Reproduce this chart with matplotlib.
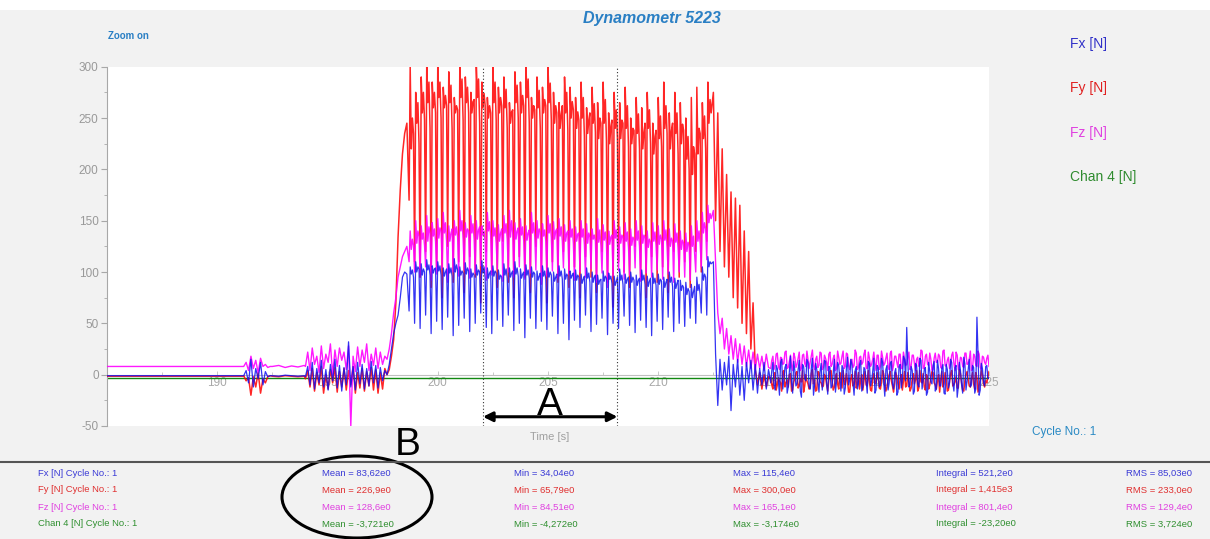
import numpy as np
import matplotlib
matplotlib.use("Agg")
import matplotlib.pyplot as plt
from matplotlib.patches import Ellipse, Rectangle
from matplotlib.lines import Line2D
from matplotlib.ticker import MultipleLocator

plt.rcParams['font.family'] = ['Liberation Sans', 'DejaVu Sans']
plt.rcParams['axes.unicode_minus'] = False

# ---------------------------------------------------------------- data
channels = ["Fx [N]", "Fy [N]", "Fz [N]", "Chan 4 [N]"]

# resting levels before the cut
fx_rest, fy_rest, fz_rest = [-1.0, -1.0], [-1.5, -1.5], [8.0, 8.0]
chan4_level = [-3.72, -3.72]

# short disturbance around 191-192 s
fx_burst = [-1, 4, -8, 15, -12, 6, -4, 12, -10, 3, -2, -1]
fy_burst = [-1, -6, -3, -20, -2, -12, 2, -18, -4, -8, -2, -1]
fz_burst = [8, 12, 4, 18, 6, 14, 2, 16, 8, 10, 7, 8]

fx_quiet = [-1, -1.5, -0.5, -1, -1.5, -1]
fy_quiet = [-1.5, -2, -1, -1.5, -2, -1.5]
fz_quiet = [8, 9, 7, 8.5, 7.5, 9]

# approach noise 194-197.6 s
fx_pre = [-2, 8, -10, 12, -14, 6, -8, 14, -12, 5, -15, 10, -6, 15, -13, 9, -16, 7,
          -10, 32, -12, 8, -15, 12, -9, 10, -14, 6, -11, 13, -8, 9, -13, 7, -6, 4]
fy_pre = [-4, 4, -12, 6, -16, 2, -10, 8, -18, 0, -14, 5, -8, 7, -17, 3, -12, 6,
          -15, 4, -10, 8, -18, 2, -13, 6, -16, 3, -11, 7, -15, 5, -18, 2, -14, 6]
fz_pre = [8, 22, 4, 26, 10, 18, 2, 28, 6, 20, 12, 30, 0, 24, 8, 26, 14, 22,
          5, 28, -50, 18, 3, 27, 8, 24, 12, 30, 4, 20, 9, 26, 6, 22, 10, 18]

# engagement ramp 197.7-198.6 s
fx_ramp = [0, 10, 25, 40, 50, 58, 75, 95, 100, 98]
fy_ramp = [0, 5, 18, 34, 70, 134, 180, 215, 235, 245]
fz_ramp = [15, 25, 40, 60, 75, 95, 105, 115, 120, 125]

# cutting phase: dip / peak / band / crest / mid value for every tooth cycle
fy_dips = [170, 110, 95, 120, 85, 105, 75, 125, 90, 110, 80, 115, 95, 70, 120,
           100, 85, 130, 90, 75, 115, 95, 80, 125, 100, 70, 110, 90, 120, 85,
           105, 75, 115, 95, 80, 120, 90, 66, 110, 100, 85, 125, 95, 75, 115,
           90, 105, 80, 120, 95, 110, 85, 120, 100, 130]
fy_peaks = [300, 275, 290, 300, 285, 300, 280, 295, 270, 300, 290, 275, 300, 285, 270,
            300, 280, 290, 265, 295, 285, 300, 270, 290, 280, 300, 275, 265, 290, 280,
            270, 285, 260, 280, 265, 285, 255, 275, 265, 280, 250, 270, 260, 275, 245,
            270, 285, 255, 275, 265, 250, 270, 280, 265, 285]
fy_band = [220, 245, 255, 265, 260, 270, 260, 265, 255, 270, 265, 255, 270, 260, 250,
           265, 255, 260, 245, 265, 255, 270, 250, 260, 255, 265, 245, 240, 255, 250,
           240, 250, 235, 245, 230, 245, 225, 240, 230, 240, 225, 235, 220, 240, 215,
           230, 240, 220, 235, 225, 210, 195, 215, 230, 245]
fy_crest = [250, 265, 275, 285, 275, 285, 272, 282, 262, 288, 280, 266, 288, 274, 262,
            285, 270, 278, 256, 282, 272, 288, 262, 277, 268, 284, 262, 254, 275, 266,
            256, 270, 248, 264, 250, 268, 242, 258, 248, 262, 240, 254, 236, 258, 232,
            252, 262, 238, 255, 244, 232, 222, 240, 252, 268]
fy_mid = [235, 225, 248, 240, 255, 250, 262, 240, 258, 248, 255, 268, 245, 262, 255,
          248, 262, 240, 258, 250, 262, 245, 258, 240, 262, 248, 255, 262, 238, 258,
          248, 232, 255, 236, 245, 228, 248, 230, 245, 222, 238, 220, 245, 225, 238,
          222, 235, 245, 215, 238, 200, 215, 235, 220, 255]

fz_dips = [110, 100, 95, 105, 92, 98, 104, 90, 100, 96, 102, 94, 99, 106, 92,
           97, 103, 91, 100, 95, 105, 93, 99, 102, 88, 96, 101, 94, 104, 98,
           92, 100, 95, 103, 90, 99, 85, 96, 101, 93, 97, 104, 91, 99, 95,
           102, 93, 98, 90, 100, 95, 92, 100, 105, 112]
fz_peaks = [140, 150, 145, 155, 148, 152, 158, 145, 150, 160, 148, 155, 150, 145, 158,
            150, 146, 155, 160, 148, 152, 145, 158, 150, 147, 155, 149, 152, 146, 150,
            144, 150, 147, 142, 152, 146, 140, 150, 144, 148, 142, 150, 145, 140, 148,
            145, 150, 142, 147, 140, 138, 145, 150, 158, 165]
fz_band = [122, 128, 132, 130, 135, 133, 138, 130, 136, 140, 134, 138, 132, 136, 140,
           135, 130, 138, 134, 132, 136, 131, 138, 133, 135, 138, 132, 135, 130, 134,
           130, 134, 128, 132, 129, 131, 127, 133, 128, 130, 126, 131, 128, 124, 130,
           127, 131, 125, 129, 122, 120, 125, 130, 138, 148]
fz_crest = [132, 140, 138, 144, 142, 143, 148, 138, 144, 150, 142, 147, 141, 140, 149,
            143, 138, 147, 150, 140, 144, 138, 148, 142, 141, 147, 140, 144, 138, 142,
            137, 142, 138, 136, 141, 139, 134, 141, 136, 139, 134, 140, 136, 132, 139,
            136, 141, 133, 138, 131, 129, 135, 140, 148, 157]
fz_mid = [126, 135, 126, 138, 130, 140, 130, 142, 134, 132, 140, 132, 144, 130, 135,
          128, 142, 132, 138, 143, 130, 141, 134, 139, 130, 134, 142, 130, 140, 128,
          138, 127, 134, 130, 125, 128, 136, 128, 134, 124, 132, 125, 134, 129, 126,
          132, 124, 130, 123, 128, 126, 118, 128, 142, 152]

fx_dips = [62, 50, 45, 58, 40, 52, 44, 56, 38, 48, 55, 42, 50, 60, 46,
           40, 53, 47, 58, 43, 50, 36, 55, 45, 52, 44, 57, 40, 50, 34,
           53, 46, 58, 42, 49, 55, 39, 50, 45, 57, 48, 41, 53, 46, 38,
           52, 44, 56, 42, 50, 47, 55, 50, 60, 58]
fx_peaks = [105, 110, 108, 112, 106, 110, 104, 108, 113, 105, 109, 103, 107, 111, 104,
            106, 102, 108, 104, 110, 103, 107, 105, 101, 106, 104, 100, 106, 103, 101,
            102, 98, 104, 100, 97, 101, 99, 96, 103, 98, 100, 97, 102, 96, 99,
            98, 95, 100, 94, 92, 90, 88, 95, 105, 115]
fx_band = [98, 100, 97, 102, 99, 101, 96, 99, 100, 97, 98, 95, 97, 99, 94,
           96, 93, 97, 95, 98, 94, 97, 95, 92, 96, 95, 91, 96, 93, 94,
           92, 89, 94, 90, 88, 91, 93, 87, 92, 89, 90, 87, 92, 86, 89,
           88, 85, 90, 84, 82, 78, 75, 82, 92, 105]
fx_crest = [102, 105, 103, 107, 103, 106, 100, 104, 107, 101, 104, 99, 102, 105, 99,
            101, 97, 103, 99, 104, 98, 102, 100, 96, 101, 100, 95, 101, 98, 97,
            97, 93, 99, 95, 92, 96, 96, 91, 97, 93, 95, 92, 97, 91, 94,
            93, 90, 95, 89, 87, 84, 81, 88, 98, 110]
fx_mid = [95, 103, 100, 97, 104, 97, 103, 96, 102, 99, 101, 97, 100, 94, 101,
          99, 95, 94, 101, 96, 100, 94, 98, 99, 93, 97, 98, 93, 96, 99,
          95, 96, 90, 97, 93, 94, 89, 95, 88, 95, 92, 94, 88, 94, 87,
          91, 93, 86, 92, 85, 81, 86, 78, 95, 108]

# tool exit 212.5-215 s
fx_exit = [110, 20, -30, 15, -15, 12, -10, 18, -35, 10, -12, 15, -20, 8, -25, 12,
           -8, 14, -15, 10, -18, 6, -10, 12, -14, 5]
fy_exit = [275, 150, 255, 120, 220, 105, 195, 95, 178, 75, 172, 65, 165, 50, 140, 40,
           120, 25, 70, 5, -10, 2, -14, 0, -12, -2]
fz_exit = [160, 110, 60, 40, 55, 25, 45, 20, 38, 15, 35, 12, 30, 10, 28, 8,
           24, 6, 22, 5, 20, 6, 18, 4, 20, 7]

# idle noise 215.1-225 s, two interleaved sample streams
fx_post = [-8, 12, -15, 6, -20, 15, -5, 10, -12, 18, -18, 4, -9, 14, -22, 8, -6, 12, -14, 16,
           -10, 5, -17, 11, -4, 13, -19, 7, -11, 15, -7, 9, -16, 6, -13, 17, -5, 10, -20, 8,
           -9, 14, -12, 5, -18, 11, -6, 16, -15, 7, -10, 12, -21, 9, -8, 13, -14, 6, -17, 10,
           -5, 15, 46, -12, 8, -19, 11, -9, 16, -14, 5, -20, 12, -7, 9, -16, 14, -11, 6, -18,
           10, -13, 15, -8, 7, -22, 12, -10, 17, -15, 5, -12, 9, -18, 56, -20, 11, -7, 8, -4]
fx_post_b = [4, -10, 9, -6, 12, -14, 7, -18, 3, -8, 13, -11, 5, -16, 10, -4, 15, -12, 6, -20,
             11, -7, 3, -15, 14, -9, 8, -13, 2, -17, 12, -5, 9, -19, 6, -10, 15, -8, 4, -14,
             10, -16, 7, -6, 13, -11, 3, -18, 9, -12, 16, -7, 5, -15, 11, -9, 2, -20, 8, -13,
             18, -6, 12, -10, 4, -16, 9, -12, 14, -5, 7, -17, 3, -9, 13, -14, 6, -11, 10, -19,
             5, -8, 12, -16, 9, -12, 4, -18, 11, -6, 15, -10, 7, -14, 20, -15, 6, -11, 9, -3]
fy_post = [-3, -14, 2, -10, -6, -16, 4, -8, -12, 1, -15, -4, 3, -11, -7, -17, 0, -9, -13, 5,
           -5, -15, 2, -8, -11, -2, -16, 3, -7, -12, 1, -14, -4, 4, -10, -6, -17, 0, -9, -13,
           2, -5, -15, 3, -11, -7, -16, 1, -8, -3, -14, 4, -10, -12, 0, -6, -17, 2, -9, -4,
           -15, 3, -11, -7, -13, 1, -5, -16, 4, -8, -12, 0, -14, -3, 2, -10, -6, -17, 3, -9,
           -4, -15, 1, -11, -7, -13, 5, -8, -16, 0, -5, -12, 2, -14, -3, -10, 4, -9, -6, -2]
fy_post_b = [-10, 1, -15, -3, -8, 3, -12, -5, 0, -16, -7, 2, -13, -4, 4, -11, -6, -14, 1, -9,
             -16, 3, -7, -12, 0, -10, -5, 4, -15, -2, -9, 2, -13, -6, 1, -17, -4, -11, 3, -8,
             -14, 0, -6, -10, 4, -15, -3, -9, 2, -13, -7, 1, -16, -5, 3, -11, -8, -2, -14, 0,
             -6, -12, 2, -16, -4, -9, 4, -13, -7, 1, -15, -3, -10, 3, -8, -14, 0, -5, -12, 2,
             -16, -7, 4, -10, -2, -13, 1, -15, -6, 3, -11, -4, -9, 2, -17, -5, 0, -12, -8, 3]
fz_post = [6, 18, 9, 21, 5, 16, 11, 23, 7, 19, 4, 17, 10, 22, 6, 20, 8, 15, 12, 24,
           5, 18, 9, 21, 7, 16, 4, 22, 10, 19, 6, 17, 11, 23, 8, 20, 5, 15, 9, 21,
           7, 18, 12, 24, 6, 16, 10, 22, 4, 19, 8, 17, 11, 21, 5, 23, 9, 18, 7, 20,
           6, 16, 10, 22, 8, 19, 4, 17, 11, 23, 7, 20, 9, 15, 5, 21, 12, 18, 6, 24,
           8, 17, 10, 22, 4, 19, 9, 16, 7, 21, 11, 23, 6, 18, 8, 20, 5, 17, 10, 19]
fz_post_b = [14, 5, 20, 8, 17, 10, 22, 6, 13, 9, 21, 7, 16, 4, 19, 11, 23, 6, 18, 9,
             15, 7, 22, 5, 19, 12, 20, 8, 16, 4, 23, 10, 18, 6, 21, 9, 14, 7, 24, 5,
             17, 10, 20, 6, 22, 8, 15, 11, 19, 5, 23, 9, 16, 7, 21, 4, 18, 12, 20, 6,
             22, 9, 17, 5, 19, 11, 15, 8, 24, 6, 18, 10, 21, 4, 16, 12, 20, 7, 23, 9,
             14, 6, 19, 11, 22, 5, 17, 8, 21, 10, 15, 4, 20, 9, 23, 7, 18, 12, 16, 8]

# statistics of the marked cycle
stat_rows = ["Fx [N] Cycle No.: 1", "Fy [N] Cycle No.: 1",
             "Fz [N] Cycle No.: 1", "Chan 4 [N] Cycle No.: 1"]
stat_mean = ["83,62e0", "226,9e0", "128,6e0", "-3,721e0"]
stat_min = ["34,04e0", "65,79e0", "84,51e0", "-4,272e0"]
stat_max = ["115,4e0", "300,0e0", "165,1e0", "-3,174e0"]
stat_integral = ["521,2e0", "1,415e3", "801,4e0", "-23,20e0"]
stat_rms = ["85,03e0", "233,0e0", "129,4e0", "3,724e0"]

cycle_start, cycle_end = 202.05, 208.15
x_ticks = [190, 195, 200, 205, 210, 215, 220, 225]
y_ticks = [-50, 0, 50, 100, 150, 200, 250, 300]


# ---------------------------------------------------------------- helpers
def segment(t0, t1, vals):
    return np.linspace(t0, t1, len(vals)), np.asarray(vals, float)


def teeth(t0, t1, *per_cycle):
    cols = np.column_stack(per_cycle)
    n, k = cols.shape
    dt = (t1 - t0) / n
    start = t0 + dt * np.arange(n)
    t = (start[:, None] + dt * np.arange(k)[None, :] / k).ravel()
    return t, cols.ravel().astype(float)


def interleave(a, b):
    return np.column_stack([a, b]).ravel()


def signal(rest, burst, quiet, pre, ramp, cycle, exit_, post):
    parts = [segment(185.0, 191.2, rest), segment(191.2, 192.4, burst),
             segment(192.5, 193.95, quiet), segment(194.0, 197.6, pre),
             segment(197.7, 198.6, ramp), teeth(198.7, 212.45, *cycle),
             segment(212.5, 215.0, exit_), segment(215.1, 225.0, post)]
    return (np.concatenate([p[0] for p in parts]),
            np.concatenate([p[1] for p in parts]))


# ---------------------------------------------------------------- figure
W, H = 1210, 539
fig = plt.figure(figsize=(W / 100, H / 100), dpi=100, facecolor='#f2f2f2')


def fx_(px):
    return px / W


def fy_(py):
    return 1 - py / H


fig.add_artist(Rectangle((0, fy_(10)), 1, 10 / H, transform=fig.transFigure,
                         facecolor='white', edgecolor='none', zorder=0))

ax = fig.add_axes([fx_(107), fy_(426), (989 - 107) / W, (426 - 66.7) / H])
ax.set_facecolor('white')
ax.set_xlim(185, 225)
ax.set_ylim(-50, 300)

col_fx, col_fy, col_fz, col_c4 = '#1010f0', '#ff0000', '#ff00ff', '#118811'

t_c4 = np.linspace(185, 225, len(chan4_level))
ax.plot(t_c4, chan4_level, color=col_c4, lw=1.0, zorder=2)

t, v = signal(fy_rest, fy_burst, fy_quiet, fy_pre, fy_ramp,
              (fy_dips, fy_peaks, fy_band, fy_crest, fy_mid), fy_exit,
              interleave(fy_post, fy_post_b))
ax.plot(t, v, color=col_fy, lw=1.1, alpha=0.85, zorder=3)
t, v = signal(fz_rest, fz_burst, fz_quiet, fz_pre, fz_ramp,
              (fz_dips, fz_peaks, fz_band, fz_crest, fz_mid), fz_exit,
              interleave(fz_post, fz_post_b))
ax.plot(t, v, color=col_fz, lw=1.0, alpha=0.9, zorder=4)
t, v = signal(fx_rest, fx_burst, fx_quiet, fx_pre, fx_ramp,
              (fx_dips, fx_peaks, fx_band, fx_crest, fx_mid), fx_exit,
              interleave(fx_post, fx_post_b))
ax.plot(t, v, color=col_fx, lw=0.9, alpha=0.85, zorder=5)

for xc in (cycle_start, cycle_end):
    ax.axvline(xc, color='#333333', ls=(0, (1, 2)), lw=0.8, zorder=6)

# axes styling
for side in ('top', 'right'):
    ax.spines[side].set_visible(False)
ax.spines['left'].set_color('#a8a8a8')
ax.spines['bottom'].set_position(('data', 0))
ax.spines['bottom'].set_color('#c0c0c0')
ax.spines['bottom'].set_linewidth(0.8)
ax.set_axisbelow(True)
ax.set_yticks(y_ticks)
ax.yaxis.set_minor_locator(MultipleLocator(25))
ax.set_xticks(x_ticks)
ax.xaxis.set_minor_locator(MultipleLocator(2.5))
ax.tick_params(axis='y', which='major', colors='#a8a8a8', labelcolor='#999999',
               labelsize=8.5, length=4, width=0.8, pad=2)
ax.tick_params(axis='y', which='minor', colors='#a8a8a8', length=2, width=0.6)
ax.tick_params(axis='x', which='major', direction='in', colors='#c0c0c0',
               labelcolor='#a8a8a8', labelsize=8.5, length=3, width=0.6, pad=2)
ax.tick_params(axis='x', which='minor', direction='in', colors='#c0c0c0', length=2)

# cycle marker A
ax.annotate('', xy=(cycle_end, -41), xytext=(cycle_start, -41),
            arrowprops=dict(arrowstyle='<|-|>', color='black', lw=2.2,
                            mutation_scale=14, shrinkA=0, shrinkB=0), zorder=7)
ax.text((cycle_start + cycle_end) / 2, -39.5, 'A', fontsize=28, ha='center',
        va='baseline', color='black', zorder=7)

# titles and legend
fig.text(fx_(652), fy_(18), 'Dynamometr 5223', ha='center', va='center',
         fontsize=11.5, fontweight='bold', fontstyle='italic', color='#2a7fc4')
fig.text(fx_(108), fy_(36), 'Zoom on', ha='left', va='center',
         fontsize=7, fontweight='bold', color='#2a7fc4')

legend_colors = ['#3030c8', '#e02020', '#e040e0', '#2e8b2e']
for i, (name, c) in enumerate(zip(channels, legend_colors)):
    fig.text(fx_(1070), fy_(44 + 44.3 * i), name, ha='left', va='center',
             fontsize=10, color=c)

fig.text(fx_(550), fy_(437), 'Time [s]', ha='center', va='center',
         fontsize=8, color='#a0a0a0')
fig.text(fx_(1032), fy_(432), 'Cycle No.: 1', ha='left', va='center',
         fontsize=8.5, color='#2a8ac4')

# statistics panel
fig.add_artist(Line2D([0, 1], [fy_(462), fy_(462)], transform=fig.transFigure,
                      color='#555555', lw=1.5))
stat_colors = ['#3b3bd6', '#e03030', '#e040e0', '#2f8f2f']
col_x = [38, 322, 514, 733, 936, 1126]
for r in range(4):
    yy = fy_(473 + 17 * r)
    c = stat_colors[r]
    cells = [stat_rows[r], 'Mean = ' + stat_mean[r], 'Min = ' + stat_min[r],
             'Max = ' + stat_max[r], 'Integral = ' + stat_integral[r],
             'RMS = ' + stat_rms[r]]
    for x0, s in zip(col_x, cells):
        fig.text(fx_(x0), yy, s, ha='left', va='center', fontsize=6.8, color=c)

# marker B with the circled mean column
fig.text(fx_(408), fy_(455), 'B', ha='center', va='baseline', fontsize=28, color='black')
fig.add_artist(Ellipse((fx_(357), fy_(497)), 150 / W, 82 / H, transform=fig.transFigure,
                       fill=False, edgecolor='black', lw=2.2))

fig.savefig('out.png', dpi=100, facecolor=fig.get_facecolor())
